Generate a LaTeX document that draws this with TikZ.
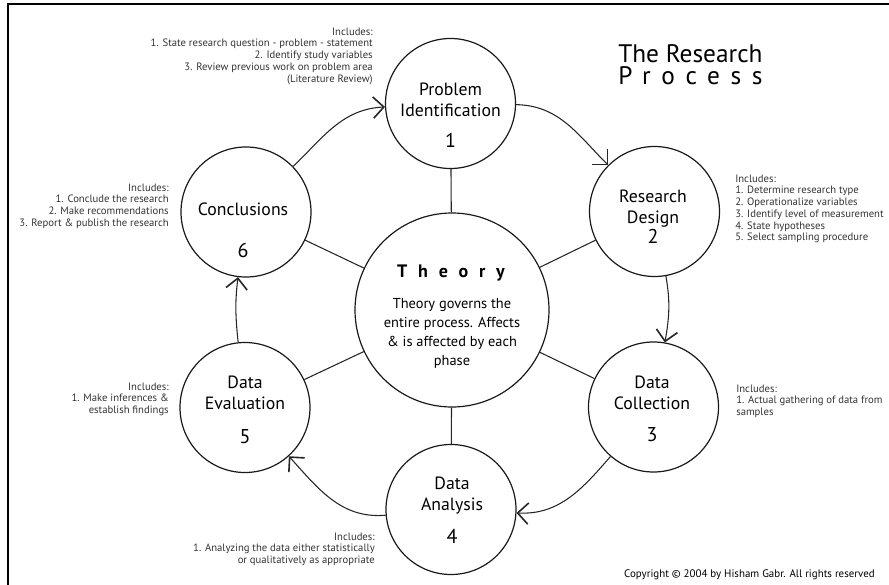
\documentclass[tikz,border=0pt]{standalone}
\usepackage{fontspec}
\setmainfont{PT Sans}
\usetikzlibrary{arrows.meta}
\begin{document}
\begin{tikzpicture}[x=0.75pt,y=0.75pt,
  phase/.style={draw=black!90,circle,line width=0.9pt,minimum size=97.5pt,inner sep=0pt},
  core/.style={draw=black!90,circle,line width=0.9pt,minimum size=145.5pt,inner sep=0pt},
  phasename/.style={align=center,anchor=north,inner sep=0pt,font=\fontsize{13.3}{15.75}\selectfont},
  phasenum/.style={anchor=base,inner sep=0pt,font=\fontsize{15}{18}\selectfont},
  includes/.style={inner sep=0pt,text=black!80,font=\fontsize{8}{8.8}\selectfont},
  spoke/.style={line width=0.8pt,draw=black!85},
  flow/.style={line width=0.8pt,draw=black!85,-{Straight Barb[length=8pt,width=16pt,line width=1.2pt]}},
  ]
  \useasboundingbox (0,-585) rectangle (889,0);
  % frame
  \draw[line width=1.5pt] (8,-585) -- (8,-4.5) -- (889,-4.5);

  % title
  \node[anchor=north west,align=left,inner sep=0pt,font=\fontsize{19}{16.5}\selectfont] (title) at (618,-44) {The Research\\{\addfontfeature{LetterSpace=42}Process}};

  % theory in the middle
  \node[core] (theory) at (452,-310) {};
  \node[anchor=base,inner sep=0pt,font=\fontsize{13.5}{15}\selectfont\bfseries] (theory-title) at (451,-277) {\addfontfeature{LetterSpace=60}Theory};
  \node[anchor=north,align=center,inner sep=0pt,font=\fontsize{10.8}{14.25}\selectfont] (theory-text) at (452,-298) {Theory governs the\\entire process. Affects\\\& is affected by each\\phase};

  % phases
  \node[phase] (ident) at (450.5,-103.5) {};
  \node[phasename] (ident-name) at (450.5,-83) {Problem\\Identification};
  \node[phasenum] (ident-num) at (450.5,-147) {1};

  \node[phase] (design) at (654.5,-211.5) {};
  \node[phasename] (design-name) at (653,-190) {Research\\Design};
  \node[phasenum] (design-num) at (653,-243) {2};

  \node[phase] (collect) at (653.5,-407) {};
  \node[phasename] (collect-name) at (652,-376) {Data\\Collection};
  \node[phasenum] (collect-num) at (652,-441) {3};

  \node[phase] (analysis) at (451,-509.5) {};
  \node[phasename] (analysis-name) at (452,-477) {Data\\Analysis};
  \node[phasenum] (analysis-num) at (452,-543) {4};

  \node[phase] (evaluate) at (245,-407.5) {};
  \node[phasename] (evaluate-name) at (245,-376) {Data\\Evaluation};
  \node[phasenum] (evaluate-num) at (245,-443) {5};

  \node[phase] (conclude) at (246,-212) {};
  \node[phasename] (conclude-name) at (243,-203) {Conclusions};
  \node[phasenum] (conclude-num) at (243,-257) {6};

  % includes
  \node[includes,anchor=north east,align=right] (ident-inc) at (373,-27.5) {Includes:\\1. State research question - problem - statement\\2. Identify study variables\\3. Review previous work on problem area\\(Literature Review)};
  \node[includes,anchor=north west,align=left] (design-inc) at (735,-174.5) {Includes:\\1. Determine research type\\2. Operationalize variables\\3. Identify level of measurement\\4. State hypotheses\\5. Select sampling procedure};
  \node[includes,anchor=north west,align=left] (collect-inc) at (736,-384.5) {Includes:\\1. Actual gathering of data from\\samples};
  \node[includes,anchor=north east,align=right] (analysis-inc) at (375,-532.5) {Includes:\\1. Analyzing the data either statistically\\or qualitatively as appropriate};
  \node[includes,anchor=north east,align=right] (evaluate-inc) at (169,-382.5) {Includes:\\1. Make inferences \&\\establish findings};
  \node[includes,anchor=north east,align=right] (conclude-inc) at (169,-183.5) {Includes:\\1. Conclude the research\\2. Make recommendations\\3. Report \& publish the research};

  \node[anchor=base east,inner sep=0pt,font=\fontsize{8.2}{9}\selectfont] (copyright) at (875,-577) {Copyright \textcopyright{} 2004 by Hisham Gabr. All rights reserved};

  % spokes
  \foreach \p in {ident,design,collect,analysis,evaluate,conclude}
    \draw[spoke] (theory) -- (\p);

  % cycle
  \draw[flow] (ident) to[out=-1,in=135] (design);
  \draw[flow] (design) to[out=-80,in=80] (collect);
  \draw[flow] (collect) to[out=-131,in=-3] (analysis);
  \draw[flow] (analysis) to[out=185,in=-48] (evaluate);
  \draw[flow] (evaluate) to[out=96,in=-97] (conclude);
  \draw[flow] (conclude) to[out=44,in=183] (ident);
\end{tikzpicture}
\end{document}
